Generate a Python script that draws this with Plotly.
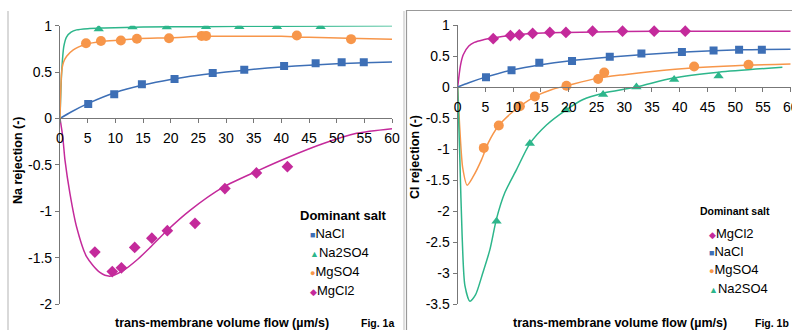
import plotly.graph_objects as go

# ---------------- data ----------------
# Fig 1a: Na rejection
na_nacl_x = [5.1, 9.8, 14.8, 20.7, 27.6, 33.3, 40.5, 46.2, 50.9, 54.9]
na_nacl_y = [0.155, 0.26, 0.37, 0.425, 0.49, 0.525, 0.565, 0.594, 0.605, 0.605]
na_na2so4_x = [7.0, 13.1, 19.3, 26.4, 32.4, 39.2, 47.1]
na_na2so4_y = [0.965, 0.985, 0.985, 0.99, 0.99, 0.99, 0.99]
na_mgso4_x = [4.7, 7.4, 11.0, 13.9, 19.7, 25.6, 26.4, 42.8, 52.6]
na_mgso4_y = [0.81, 0.835, 0.84, 0.86, 0.865, 0.89, 0.89, 0.895, 0.855]
na_mgcl2_x = [6.3, 9.45, 11.1, 13.5, 16.6, 19.4, 24.4, 29.8, 35.5, 41.1]
na_mgcl2_y = [-1.44, -1.65, -1.61, -1.39, -1.29, -1.21, -1.13, -0.756, -0.587, -0.52]

# model curves 1a
na_nacl_fit_x = [0, 2, 5, 10, 15, 20, 25, 30, 35, 40, 45, 50, 55, 60]
na_nacl_fit_y = [0, 0.07, 0.16, 0.28, 0.36, 0.42, 0.465, 0.5, 0.53, 0.555, 0.575, 0.59, 0.6, 0.61]
na_na2so4_fit_x = [0, 0.3, 0.7, 1.2, 2, 3, 5, 8, 15, 25, 40, 60]
na_na2so4_fit_y = [0, 0.5, 0.78, 0.88, 0.93, 0.955, 0.968, 0.975, 0.985, 0.99, 0.995, 1.0]
na_mgso4_fit_x = [0, 0.3, 0.6, 1.2, 2.4, 4.7, 7.5, 11, 14, 20, 26, 35, 40, 45, 52, 60]
na_mgso4_fit_y = [0, 0.5, 0.6, 0.67, 0.74, 0.8, 0.83, 0.845, 0.86, 0.87, 0.885, 0.885, 0.885, 0.875, 0.865, 0.855]
na_mgcl2_fit_x = [0, 0.5, 0.9, 1.8, 3, 4.8, 7.2, 9, 11.4, 14, 16.3, 19.3, 23.5, 29.5, 35.5, 41.6, 47.6, 53.6, 60]
na_mgcl2_fit_y = [0, -0.2, -0.45, -0.81, -1.17, -1.49, -1.66, -1.70, -1.64, -1.52, -1.39, -1.21, -0.99, -0.74,
                  -0.57, -0.41, -0.27, -0.16, -0.11]

# Fig 1b: Cl rejection
cl_mgcl2_x = [6.4, 9.5, 11.1, 13.5, 16.6, 19.5, 24.3, 29.7, 35.4, 41.0]
cl_mgcl2_y = [0.78, 0.83, 0.84, 0.865, 0.88, 0.88, 0.9, 0.9, 0.9, 0.9]
cl_nacl_x = [5.1, 9.7, 14.7, 20.6, 27.4, 33.1, 40.4, 46.1, 50.7, 54.8]
cl_nacl_y = [0.16, 0.27, 0.39, 0.42, 0.49, 0.54, 0.565, 0.59, 0.6, 0.6]
cl_mgso4_x = [4.7, 7.4, 11.2, 13.9, 19.6, 25.3, 26.4, 42.6, 52.4]
cl_mgso4_y = [-0.98, -0.62, -0.31, -0.15, 0.02, 0.13, 0.235, 0.33, 0.36]
cl_na2so4_x = [7.0, 13.0, 19.5, 26.2, 32.2, 39.0, 47.0]
cl_na2so4_y = [-2.16, -0.91, -0.37, -0.12, 0.0, 0.12, 0.18]

# model curves 1b
cl_mgcl2_fit_x = [0, 0.5, 1, 2, 3, 4.5, 6.4, 9.5, 13.5, 19.5, 30, 41, 50, 60]
cl_mgcl2_fit_y = [0, 0.35, 0.52, 0.66, 0.72, 0.76, 0.79, 0.83, 0.865, 0.88, 0.895, 0.9, 0.9, 0.9]
cl_nacl_fit_x = [0, 2, 5, 10, 15, 20, 27, 33, 40, 46, 51, 55, 60]
cl_nacl_fit_y = [0, 0.07, 0.16, 0.28, 0.36, 0.42, 0.48, 0.52, 0.56, 0.585, 0.6, 0.605, 0.61]
cl_mgso4_fit_x = [0, 0.4, 0.9, 1.7, 2.8, 4.3, 5.5, 7.4, 9.5, 11.2, 14, 17, 20, 25, 30, 35, 42.6, 50, 60]
cl_mgso4_fit_y = [0, -0.7, -1.3, -1.58, -1.44, -1.17, -0.9, -0.62, -0.43, -0.31, -0.15, -0.04, 0.03, 0.14,
                  0.2, 0.25, 0.31, 0.345, 0.37]
cl_na2so4_fit_x = [0, 0.4, 0.8, 1.3, 2.2, 3.2, 4.5, 5.8, 7, 8.5, 10.6, 13, 16, 19.5, 22.6, 26.2, 32.2, 38.8, 47, 58.5]
cl_na2so4_fit_y = [0, -1.2, -2.4, -3.2, -3.45, -3.35, -3.0, -2.62, -2.12, -1.7, -1.33, -0.91, -0.61, -0.37,
                   -0.2, -0.1, 0.0, 0.145, 0.24, 0.32]

x_ticks = [0, 5, 10, 15, 20, 25, 30, 35, 40, 45, 50, 55, 60]
na_y_ticks = [-2, -1.5, -1, -0.5, 0, 0.5, 1]
na_y_labels = ["-2", "-1.5", "-1", "-0.5", "0", "0.5", "1"]
cl_y_ticks = [-3.5, -3, -2.5, -2, -1.5, -1, -0.5, 0, 0.5, 1]
cl_y_labels = ["-3.5", "-3", "-2.5", "-2", "-1.5", "-1", "-0.5", "0", "0.5", "1"]

legend_a = ["NaCl", "Na2SO4", "MgSO4", "MgCl2"]
legend_b = ["MgCl2", "NaCl", "MgSO4", "Na2SO4"]

# ---------------- styles ----------------
W, H = 792, 330
C = {"NaCl": "#3D6FB6", "Na2SO4": "#2DB68B", "MgSO4": "#F7964A", "MgCl2": "#C42A9B"}
SYM = {"NaCl": "square", "Na2SO4": "triangle-up", "MgSO4": "circle", "MgCl2": "diamond"}
MSIZE = {"NaCl": 8, "Na2SO4": 9, "MgSO4": 10, "MgCl2": 9}
GLYPH = {"NaCl": "■", "Na2SO4": "▲", "MgSO4": "●", "MgCl2": "◆"}
FONT = "Liberation Sans, Arial, sans-serif"
AX = "#777777"

def px(x):
    return x / W

def py(y):
    return 1 - y / H

fig = go.Figure()

def add(salt, xs, ys, fx, fy, xa, ya):
    fig.add_trace(go.Scatter(x=fx, y=fy, mode="lines", line=dict(color=C[salt], width=1.5, shape="spline",
                             smoothing=0.7), xaxis=xa, yaxis=ya, showlegend=False, hoverinfo="skip"))
    fig.add_trace(go.Scatter(x=xs, y=ys, mode="markers", marker=dict(symbol=SYM[salt], size=MSIZE[salt],
                             color=C[salt]), xaxis=xa, yaxis=ya, showlegend=False, name=salt))

add("NaCl", na_nacl_x, na_nacl_y, na_nacl_fit_x, na_nacl_fit_y, "x", "y")
add("Na2SO4", na_na2so4_x, na_na2so4_y, na_na2so4_fit_x, na_na2so4_fit_y, "x", "y")
add("MgSO4", na_mgso4_x, na_mgso4_y, na_mgso4_fit_x, na_mgso4_fit_y, "x", "y")
add("MgCl2", na_mgcl2_x, na_mgcl2_y, na_mgcl2_fit_x, na_mgcl2_fit_y, "x", "y")

add("MgCl2", cl_mgcl2_x, cl_mgcl2_y, cl_mgcl2_fit_x, cl_mgcl2_fit_y, "x2", "y2")
add("NaCl", cl_nacl_x, cl_nacl_y, cl_nacl_fit_x, cl_nacl_fit_y, "x2", "y2")
add("MgSO4", cl_mgso4_x, cl_mgso4_y, cl_mgso4_fit_x, cl_mgso4_fit_y, "x2", "y2")
add("Na2SO4", cl_na2so4_x, cl_na2so4_y, cl_na2so4_fit_x, cl_na2so4_fit_y, "x2", "y2")

tickfont = dict(family=FONT, size=14, color="#000")
xcommon = dict(range=[0, 60], tickvals=x_ticks, ticks="outside", ticklen=4, tickcolor=AX, showline=True,
               linecolor=AX, linewidth=1.2, showgrid=False, zeroline=False, tickfont=tickfont,
               anchor="free", ticklabelstandoff=3, automargin=False, ticklabeloverflow="allow")
ycommon = dict(ticks="outside", ticklen=4, tickcolor=AX, showline=True, linecolor=AX, linewidth=1.2,
               showgrid=False, zeroline=False, tickfont=tickfont, automargin=False)

fig.update_layout(
    width=W, height=H, margin=dict(l=0, r=0, t=0, b=0, autoexpand=False),
    paper_bgcolor="white", plot_bgcolor="rgba(0,0,0,0)", showlegend=False,
    xaxis=dict(domain=[px(60), px(392)], position=py(118.3), **xcommon),
    yaxis=dict(domain=[py(304), py(25.7)], range=[-2, 1], tickvals=na_y_ticks, ticktext=na_y_labels,
               anchor="x", **ycommon),
    xaxis2=dict(domain=[px(457.7), px(790.7)], position=py(87.3), **xcommon),
    yaxis2=dict(domain=[py(304.3), py(25)], range=[-3.5, 1], tickvals=cl_y_ticks, ticktext=cl_y_labels,
                anchor="x2", **ycommon),
)

ann = []
def text(x, y, s, size, xanchor="center", angle=0, bold=False):
    ann.append(dict(x=px(x), y=py(y), xref="paper", yref="paper", text=("<b>%s</b>" % s) if bold else s,
                    showarrow=False, xanchor=xanchor, yanchor="middle", textangle=angle,
                    font=dict(family=FONT, size=size, color="#000")))

text(222, 323, "trans-membrane volume flow (µm/s)", 12.5, bold=True)
text(620, 323, "trans-membrane volume flow (µm/s)", 12.5, bold=True)
text(396, 323, "Fig. 1a", 10.5, xanchor="right", bold=True)
text(791, 323, "Fig. 1b", 10.5, xanchor="right", bold=True)
text(18, 160, "Na rejection (-)", 12.5, angle=-90, bold=True)
text(415, 157, "Cl rejection (-)", 12.5, angle=-90, bold=True)

# legends
text(298, 215, "Dominant salt", 13, xanchor="left", bold=True)
for i, s in enumerate(legend_a):
    ann.append(dict(x=px(308), y=py(233 + i * 19), xref="paper", yref="paper", showarrow=False,
                    xanchor="left", yanchor="middle",
                    text="<span style='color:%s;font-size:9px'>%s</span>%s" % (C[s], GLYPH[s], s),
                    font=dict(family=FONT, size=13, color="#000")))
text(698, 211, "Dominant salt", 10.5, xanchor="left", bold=True)
for i, s in enumerate(legend_b):
    ann.append(dict(x=px(707), y=py(233 + i * 18.4), xref="paper", yref="paper", showarrow=False,
                    xanchor="left", yanchor="middle",
                    text="<span style='color:%s;font-size:9px'>%s</span>%s" % (C[s], GLYPH[s], s),
                    font=dict(family=FONT, size=13, color="#000")))
fig.update_layout(annotations=ann)

# panel frames
shapes = [
    dict(type="line", xref="paper", yref="paper", x0=px(8), x1=px(8), y0=py(11), y1=py(330),
         line=dict(color="#cccccc", width=1.5)),
    dict(type="line", xref="paper", yref="paper", x0=px(404), x1=px(404), y0=py(11), y1=py(330),
         line=dict(color="#d5d5d5", width=1.5)),
    dict(type="line", xref="paper", yref="paper", x0=px(406.5), x1=px(406.5), y0=py(10), y1=py(330),
         line=dict(color="#999999", width=1.2)),
    dict(type="line", xref="paper", yref="paper", x0=px(406), x1=px(792), y0=py(10.5), y1=py(10.5),
         line=dict(color="#999999", width=1.2)),
]
fig.update_layout(shapes=shapes)

fig.write_html("out.html", config={"displayModeBar": False},
               post_script="document.body.style.margin='0';document.body.style.overflow='hidden';")
